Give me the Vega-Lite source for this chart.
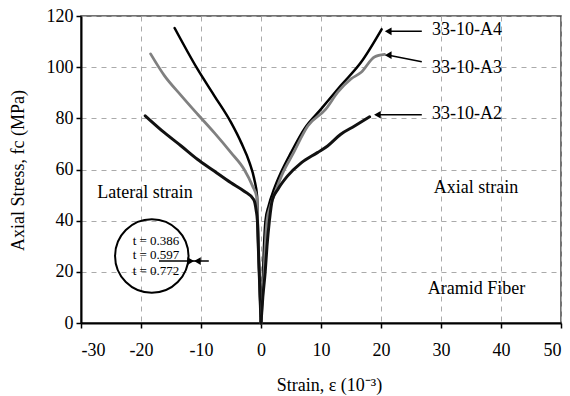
{
  "$schema": "https://vega.github.io/schema/vega-lite/v6.json",
  "width": 480,
  "height": 307,
  "autosize": {"type": "none"},
  "padding": {"left": 81, "top": 16, "right": 9, "bottom": 73},
  "background": "white",
  "config": {
    "font": "Liberation Serif",
    "view": {"stroke": "#444", "strokeWidth": 1.5},
    "axis": {
      "labelFont": "Liberation Serif",
      "titleFont": "Liberation Serif",
      "labelFontSize": 18,
      "titleFontSize": 18,
      "titleFontWeight": "normal",
      "labelColor": "black",
      "titleColor": "black",
      "domainColor": "black",
      "domainWidth": 2,
      "tickColor": "black",
      "tickWidth": 1.5,
      "tickSize": 5,
      "gridColor": "#aaa",
      "gridDash": [5, 5],
      "gridWidth": 1
    }
  },
  "datasets": {
    "curves": [
      {"series": "33-10-A4", "branch": "A4-lat", "x": 0, "y": 0},
      {"series": "33-10-A4", "branch": "A4-lat", "x": -0.15, "y": 10},
      {"series": "33-10-A4", "branch": "A4-lat", "x": -0.3, "y": 20},
      {"series": "33-10-A4", "branch": "A4-lat", "x": -0.45, "y": 30},
      {"series": "33-10-A4", "branch": "A4-lat", "x": -0.55, "y": 40},
      {"series": "33-10-A4", "branch": "A4-lat", "x": -0.65, "y": 49.5},
      {"series": "33-10-A4", "branch": "A4-lat", "x": -1.1, "y": 56},
      {"series": "33-10-A4", "branch": "A4-lat", "x": -1.9, "y": 62.6},
      {"series": "33-10-A4", "branch": "A4-lat", "x": -3.3, "y": 70.5},
      {"series": "33-10-A4", "branch": "A4-lat", "x": -5, "y": 78.4},
      {"series": "33-10-A4", "branch": "A4-lat", "x": -7.8, "y": 88.9},
      {"series": "33-10-A4", "branch": "A4-lat", "x": -10.6, "y": 99.3},
      {"series": "33-10-A4", "branch": "A4-lat", "x": -14.4, "y": 115.3},
      {"series": "33-10-A3", "branch": "A3-lat", "x": 0, "y": 0},
      {"series": "33-10-A3", "branch": "A3-lat", "x": -0.15, "y": 10},
      {"series": "33-10-A3", "branch": "A3-lat", "x": -0.3, "y": 20},
      {"series": "33-10-A3", "branch": "A3-lat", "x": -0.45, "y": 30},
      {"series": "33-10-A3", "branch": "A3-lat", "x": -0.55, "y": 40},
      {"series": "33-10-A3", "branch": "A3-lat", "x": -0.75, "y": 49.5},
      {"series": "33-10-A3", "branch": "A3-lat", "x": -1.4, "y": 53.5},
      {"series": "33-10-A3", "branch": "A3-lat", "x": -2.8, "y": 60},
      {"series": "33-10-A3", "branch": "A3-lat", "x": -5, "y": 66.6},
      {"series": "33-10-A3", "branch": "A3-lat", "x": -7.8, "y": 74.4},
      {"series": "33-10-A3", "branch": "A3-lat", "x": -10.6, "y": 81.7},
      {"series": "33-10-A3", "branch": "A3-lat", "x": -13.3, "y": 88.9},
      {"series": "33-10-A3", "branch": "A3-lat", "x": -16.1, "y": 96.7},
      {"series": "33-10-A3", "branch": "A3-lat", "x": -18.4, "y": 105.2},
      {"series": "33-10-A2", "branch": "A2-lat", "x": 0, "y": 0},
      {"series": "33-10-A2", "branch": "A2-lat", "x": -0.15, "y": 10},
      {"series": "33-10-A2", "branch": "A2-lat", "x": -0.3, "y": 20},
      {"series": "33-10-A2", "branch": "A2-lat", "x": -0.45, "y": 30},
      {"series": "33-10-A2", "branch": "A2-lat", "x": -0.6, "y": 40},
      {"series": "33-10-A2", "branch": "A2-lat", "x": -0.8, "y": 44},
      {"series": "33-10-A2", "branch": "A2-lat", "x": -1.2, "y": 48.2},
      {"series": "33-10-A2", "branch": "A2-lat", "x": -2.8, "y": 51.5},
      {"series": "33-10-A2", "branch": "A2-lat", "x": -5, "y": 54.8},
      {"series": "33-10-A2", "branch": "A2-lat", "x": -7.8, "y": 59.4},
      {"series": "33-10-A2", "branch": "A2-lat", "x": -10.6, "y": 64},
      {"series": "33-10-A2", "branch": "A2-lat", "x": -13.3, "y": 69.2},
      {"series": "33-10-A2", "branch": "A2-lat", "x": -16.1, "y": 74.4},
      {"series": "33-10-A2", "branch": "A2-lat", "x": -19.3, "y": 81},
      {"series": "33-10-A4", "branch": "A4-ax", "x": 0, "y": 0},
      {"series": "33-10-A4", "branch": "A4-ax", "x": 0.2, "y": 10},
      {"series": "33-10-A4", "branch": "A4-ax", "x": 0.35, "y": 20},
      {"series": "33-10-A4", "branch": "A4-ax", "x": 0.5, "y": 30},
      {"series": "33-10-A4", "branch": "A4-ax", "x": 0.75, "y": 40},
      {"series": "33-10-A4", "branch": "A4-ax", "x": 1.3, "y": 46},
      {"series": "33-10-A4", "branch": "A4-ax", "x": 2.2, "y": 52.5},
      {"series": "33-10-A4", "branch": "A4-ax", "x": 3.3, "y": 58.7},
      {"series": "33-10-A4", "branch": "A4-ax", "x": 5, "y": 66.6},
      {"series": "33-10-A4", "branch": "A4-ax", "x": 7.2, "y": 75.8},
      {"series": "33-10-A4", "branch": "A4-ax", "x": 10, "y": 83.6},
      {"series": "33-10-A4", "branch": "A4-ax", "x": 13.3, "y": 92.8},
      {"series": "33-10-A4", "branch": "A4-ax", "x": 16.7, "y": 102},
      {"series": "33-10-A4", "branch": "A4-ax", "x": 20.1, "y": 114.8},
      {"series": "33-10-A3", "branch": "A3-ax", "x": 0, "y": 0},
      {"series": "33-10-A3", "branch": "A3-ax", "x": 0.25, "y": 10},
      {"series": "33-10-A3", "branch": "A3-ax", "x": 0.5, "y": 20},
      {"series": "33-10-A3", "branch": "A3-ax", "x": 0.7, "y": 30},
      {"series": "33-10-A3", "branch": "A3-ax", "x": 1.0, "y": 40},
      {"series": "33-10-A3", "branch": "A3-ax", "x": 1.6, "y": 46},
      {"series": "33-10-A3", "branch": "A3-ax", "x": 2.5, "y": 52},
      {"series": "33-10-A3", "branch": "A3-ax", "x": 3.6, "y": 58.5},
      {"series": "33-10-A3", "branch": "A3-ax", "x": 5.3, "y": 66},
      {"series": "33-10-A3", "branch": "A3-ax", "x": 7.8, "y": 77},
      {"series": "33-10-A3", "branch": "A3-ax", "x": 10.8, "y": 83.6},
      {"series": "33-10-A3", "branch": "A3-ax", "x": 12.8, "y": 90.2},
      {"series": "33-10-A3", "branch": "A3-ax", "x": 15, "y": 95.4},
      {"series": "33-10-A3", "branch": "A3-ax", "x": 16.7, "y": 98},
      {"series": "33-10-A3", "branch": "A3-ax", "x": 18.9, "y": 104},
      {"series": "33-10-A3", "branch": "A3-ax", "x": 20.6, "y": 105},
      {"series": "33-10-A2", "branch": "A2-ax", "x": 0, "y": 0},
      {"series": "33-10-A2", "branch": "A2-ax", "x": 0.3, "y": 10},
      {"series": "33-10-A2", "branch": "A2-ax", "x": 0.7, "y": 20},
      {"series": "33-10-A2", "branch": "A2-ax", "x": 1.0, "y": 30},
      {"series": "33-10-A2", "branch": "A2-ax", "x": 1.4, "y": 40},
      {"series": "33-10-A2", "branch": "A2-ax", "x": 1.9, "y": 48.2},
      {"series": "33-10-A2", "branch": "A2-ax", "x": 2.8, "y": 52.2},
      {"series": "33-10-A2", "branch": "A2-ax", "x": 4.4, "y": 57.4},
      {"series": "33-10-A2", "branch": "A2-ax", "x": 6.7, "y": 62.6},
      {"series": "33-10-A2", "branch": "A2-ax", "x": 9.4, "y": 66.6},
      {"series": "33-10-A2", "branch": "A2-ax", "x": 11.1, "y": 69.2},
      {"series": "33-10-A2", "branch": "A2-ax", "x": 13.3, "y": 73.8},
      {"series": "33-10-A2", "branch": "A2-ax", "x": 15.6, "y": 77},
      {"series": "33-10-A2", "branch": "A2-ax", "x": 18.1, "y": 80.6}
    ],
    "labels": [
      {"label": "33-10-A4", "x": 28.5, "y": 114.5},
      {"label": "33-10-A3", "x": 28.5, "y": 99.5},
      {"label": "33-10-A2", "x": 28.5, "y": 81.7},
      {"label": "Lateral strain", "x": -27.3, "y": 50.8},
      {"label": "Axial strain", "x": 28.8, "y": 52.8},
      {"label": "Aramid Fiber", "x": 27.8, "y": 13.3}
    ],
    "circleText": [
      {"label": "t = 0.386", "x": -17.5, "y": 32.2},
      {"label": "t = 0.597", "x": -17.5, "y": 26.6},
      {"label": "t = 0.772", "x": -17.5, "y": 20.4}
    ],
    "arrows": [
      {"x": 26.8, "y": 114, "x2": 21.5, "y2": 114},
      {"x": 26.8, "y": 102.1, "x2": 21.5, "y2": 104.6},
      {"x": 26.8, "y": 81.4, "x2": 19.7, "y2": 81.4},
      {"x": -17, "y": 24.2, "x2": -8.7, "y2": 24.2}
    ],
    "headsLeft": [
      {"x": 21.2, "y": 114},
      {"x": 21.2, "y": 104.7},
      {"x": 19.4, "y": 81.4},
      {"x": -10.6, "y": 24.2}
    ],
    "headsRight": [
      {"x": -11.7, "y": 24.2}
    ],
    "circle": [
      {"x": -18.2, "y": 26.2}
    ]
  },
  "encoding": {
    "x": {
      "field": "x", "type": "quantitative",
      "scale": {"domain": [-30, 50], "nice": false, "zero": false},
      "axis": {
        "values": [-30, -20, -10, 0, 10, 20, 30, 40, 50],
        "labelExpr": "'' + datum.value",
        "title": "Strain, ε  (10⁻³)",
        "labelPadding": 13,
        "titleX": 248, "titleY": 62, "titleBaseline": "middle", "titleAlign": "center"
      }
    },
    "y": {
      "field": "y", "type": "quantitative",
      "scale": {"domain": [0, 120], "nice": false},
      "axis": {
        "values": [0, 20, 40, 60, 80, 100, 120],
        "title": "Axial Stress, fc (MPa)",
        "labelPadding": 3,
        "titleX": -63, "titleY": 154, "titleAngle": -90, "titleBaseline": "middle", "titleAlign": "center"
      }
    }
  },
  "layer": [
    {
      "data": {"name": "curves"},
      "mark": {"type": "line", "strokeCap": "round", "strokeJoin": "round", "interpolate": "monotone"},
      "encoding": {
        "detail": {"field": "branch"},
        "order": {"field": "y", "type": "quantitative"},
        "color": {
          "field": "series", "type": "nominal",
          "scale": {"domain": ["33-10-A2", "33-10-A3", "33-10-A4"], "range": ["#111111", "#808080", "#000000"]},
          "legend": null
        },
        "strokeWidth": {
          "field": "series", "type": "nominal",
          "scale": {"domain": ["33-10-A2", "33-10-A3", "33-10-A4"], "range": [3, 2.5, 3.5]},
          "legend": null
        }
      }
    },
    {
      "data": {"name": "labels"},
      "mark": {"type": "text", "align": "left", "baseline": "middle", "fontSize": 18, "font": "Liberation Serif", "color": "black"},
      "encoding": {
        "text": {"field": "label"}
      }
    },
    {
      "data": {"name": "circleText"},
      "mark": {"type": "text", "align": "center", "baseline": "middle", "fontSize": 13, "font": "Liberation Serif", "color": "black"},
      "encoding": {
        "text": {"field": "label"}
      }
    },
    {
      "data": {"name": "arrows"},
      "mark": {"type": "rule", "color": "black", "strokeWidth": 1.5},
      "encoding": {
        "x2": {"field": "x2"},
        "y2": {"field": "y2"}
      }
    },
    {
      "data": {"name": "headsLeft"},
      "mark": {"type": "point", "shape": "triangle-left", "filled": true, "color": "black", "size": 60, "opacity": 1},
      "encoding": {}
    },
    {
      "data": {"name": "headsRight"},
      "mark": {"type": "point", "shape": "triangle-right", "filled": true, "color": "black", "size": 60, "opacity": 1},
      "encoding": {}
    },
    {
      "data": {"name": "circle"},
      "mark": {"type": "point", "shape": "circle", "filled": false, "color": "black", "strokeWidth": 2, "size": 5400, "opacity": 1},
      "encoding": {}
    }
  ]
}
